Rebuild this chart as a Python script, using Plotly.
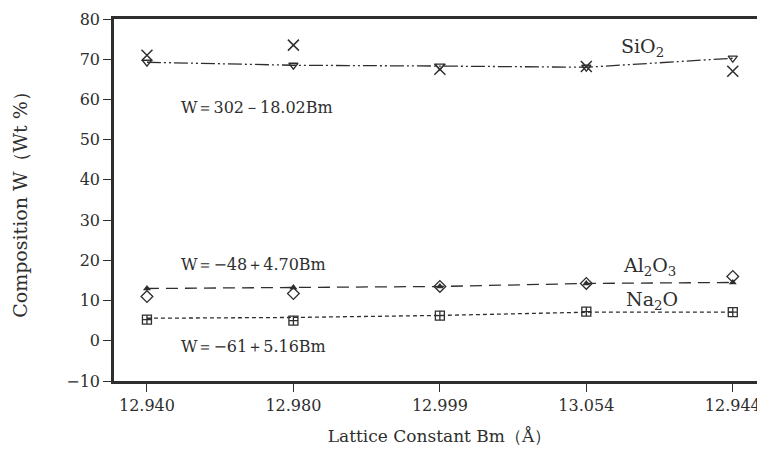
import plotly.graph_objects as go

bm_labels = ["12.940", "12.980", "12.999", "13.054", "12.944"]

sio2_fit = [69.25, 68.5, 68.3, 68.0, 70.25]
sio2_meas = [71.0, 73.5, 67.5, 68.2, 67.0]
al2o3_fit = [13.0, 13.25, 13.5, 14.25, 14.5]
al2o3_meas = [11.0, 11.75, 13.5, 14.25, 16.0]
na2o_fit = [5.6, 5.8, 6.3, 7.1, 7.1]
na2o_meas = [5.25, 5.0, 6.25, 7.25, 7.1]

ink = "#2e2e2e"
serif = "DejaVu Serif, Liberation Serif, serif"

fig = go.Figure()

fig.add_trace(go.Scatter(
    x=bm_labels, y=sio2_fit, mode="lines+markers",
    line=dict(color=ink, width=1.3, dash="14px,3px,2px,3px,2px,3px"),
    marker=dict(symbol="triangle-down-open", size=8, color=ink, line=dict(width=1.3)),
    showlegend=False))
fig.add_trace(go.Scatter(
    x=bm_labels, y=sio2_meas, mode="markers",
    marker=dict(symbol="x-thin-open", size=11, color=ink, line=dict(width=1.5, color=ink)),
    showlegend=False))

fig.add_trace(go.Scatter(
    x=bm_labels, y=al2o3_fit, mode="lines+markers",
    line=dict(color=ink, width=1.3, dash="12px,7px"),
    marker=dict(symbol="triangle-up", size=7, color=ink),
    showlegend=False))
fig.add_trace(go.Scatter(
    x=bm_labels, y=al2o3_meas, mode="markers",
    marker=dict(symbol="diamond-open", size=9, color=ink, line=dict(width=1.3)),
    showlegend=False))

fig.add_trace(go.Scatter(
    x=bm_labels, y=na2o_fit, mode="lines",
    line=dict(color=ink, width=1.3, dash="4px,3px"),
    showlegend=False))
fig.add_trace(go.Scatter(
    x=bm_labels, y=na2o_meas, mode="markers",
    marker=dict(symbol="square-cross-open", size=9, color=ink, line=dict(width=1.3)),
    showlegend=False))

annos = [
    dict(x=0.22, y=58, text="W＝302－18.02Bm", size=16),
    dict(x=3.22, y=73, text="SiO<sub>2</sub>", size=19),
    dict(x=0.22, y=19, text="W＝−48＋4.70Bm", size=16),
    dict(x=3.24, y=18.5, text="Al<sub>2</sub>O<sub>3</sub>", size=19),
    dict(x=3.26, y=10, text="Na<sub>2</sub>O", size=19),
    dict(x=0.22, y=-1.5, text="W＝−61＋5.16Bm", size=16),
]
for a in annos:
    fig.add_annotation(x=a["x"], y=a["y"], text=a["text"], showarrow=False,
                       xanchor="left", font=dict(family=serif, size=a["size"], color=ink))

fig.update_layout(
    width=757, height=448,
    margin=dict(l=106, r=0, t=11, b=75),
    paper_bgcolor="white", plot_bgcolor="white",
    font=dict(family=serif, size=16, color=ink),
    xaxis=dict(type="category", range=[-0.225, 4.22], showgrid=False, zeroline=False,
               automargin=False,
               showline=True, linewidth=2.5, linecolor=ink, mirror=True,
               ticks="outside", ticklen=8, tickwidth=1.2, tickcolor=ink,
               tickfont=dict(family=serif, size=16),
               title=dict(text="Lattice Constant Bm（Å）", standoff=17,
                          font=dict(family=serif, size=17))),
    yaxis=dict(range=[-10, 80], dtick=10, showgrid=False, zeroline=False,
               automargin=False,
               showline=True, linewidth=2.5, linecolor=ink,
               ticks="outside", ticklen=8, tickwidth=1.2, tickcolor=ink,
               tickfont=dict(family=serif, size=16),
               title=dict(text="Composition W（Wt %）", standoff=34,
                          font=dict(family=serif, size=19))),
)

fig.write_html("out.html")
